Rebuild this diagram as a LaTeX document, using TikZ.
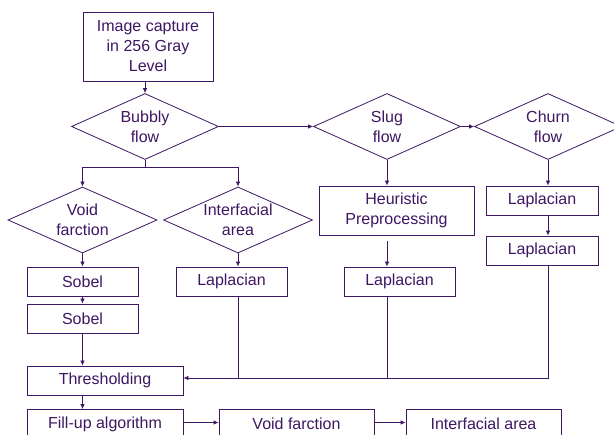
\documentclass[tikz,border=0pt]{standalone}
\usepackage{fontspec}
\setmainfont{Liberation Sans}
\usepackage{tikz}
\usetikzlibrary{shapes.geometric,arrows.meta}
\definecolor{ink}{RGB}{62,22,98}

\begin{document}
\begin{tikzpicture}[x=1pt,y=-1pt,
  every node/.style={text=ink,font=\fontsize{16}{20}\selectfont,align=center},
  box/.style={draw=ink,line width=0.8pt,rectangle,inner sep=0pt,minimum height=29pt},
  dec/.style={draw=ink,line width=0.8pt,diamond,aspect=2.2,inner sep=-1pt,minimum width=147pt,minimum height=66pt},
  arr/.style={draw=ink,line width=0.8pt,-{Latex[length=5pt,width=4.5pt]}},
  ln/.style={draw=ink,line width=0.8pt}]
\useasboundingbox (0,0) rectangle (614,435);
\clip (0,0) rectangle (614,435);

% Image capture
\node[box,minimum width=130pt,minimum height=69pt] (cap) at (148,46.5) {Image capture\\in 256 Gray\\Level};

% Flow regimes
\node[dec] (bub) at (145,126.5) {Bubbly\\flow};
\node[dec] (slug) at (387,126.5) {Slug\\flow};
\node[dec] (churn) at (548,126.5) {Churn\\flow};

% Bubbly flow branches
\node[dec,minimum width=149pt] (void) at (82.5,220) {Void\\farction};
\node[dec,minimum width=149pt] (intf) at (238,220) {Interfacial\\area};

% Filters
\node[box,minimum width=111pt] (sob1) at (82.5,281.5) {Sobel};
\node[box,minimum width=111pt] (sob2) at (82.5,318.5) {Sobel};
\node[box,minimum width=111pt] (lapi) at (231.5,281.5) {Laplacian};
\node[box,minimum width=155pt,minimum height=49pt] (heu) at (396.5,210.5) {Heuristic\\Preprocessing};
\node[box,minimum width=111pt] (laps) at (399.5,281.5) {Laplacian};
\node[box,minimum width=112pt] (lapc1) at (542,200.5) {Laplacian};
\node[box,minimum width=112pt] (lapc2) at (542,250.5) {Laplacian};

% Thresholding and results
\node[box,minimum width=156pt] (thr) at (105,380.5) {Thresholding};
\node[box,minimum width=156pt] (fill) at (105,424) {Fill-up algorithm};
\node[box,minimum width=155pt] (vres) at (296.5,424) {Void farction};
\node[box,minimum width=155pt] (ires) at (483.5,424) {Interfacial area};

% Connectors
\draw[arr] (bub.north |- cap.south) -- (bub.north);
\draw[arr] (bub.east) -- (slug.west);
\draw[arr] (slug.east) -- (churn.west);
\draw[ln] (bub.south) -- ++(0,8) coordinate (split);
\draw[arr] (split) -| (void.north);
\draw[arr] (split) -| (intf.north);
\draw[arr] (void.south) -- (sob1.north -| void.south);
\draw[arr] (sob1.south) -- (sob2.north);
\draw[arr] (sob2.south) -- (thr.north -| sob2.south);
\draw[arr] (intf.south) -- (lapi.north -| intf.south);
\draw[arr] (slug.south) -- (heu.north -| slug.south);
\draw[arr,shorten <=6pt] (heu.south -| slug.south) -- (laps.north -| slug.south);
\draw[arr] (churn.south) -- (lapc1.north -| churn.south);
\draw[arr] (lapc1.south -| churn.south) -- (lapc2.north -| churn.south);

% Merge into thresholding
\coordinate (mrg) at ([yshift=2.5pt]thr.east);
\draw[arr] (lapc2.south -| churn.south) |- (mrg);
\draw[ln] (laps.south -| slug.south) -- (slug.south |- mrg);
\draw[ln] (lapi.south -| intf.south) -- (intf.south |- mrg);
\draw[arr] (thr.south -| sob2.south) -- (fill.north -| sob2.south);
\draw[arr] ([yshift=1.5pt]fill.east) -- ([yshift=1.5pt]vres.west);
\draw[arr] ([yshift=1.5pt]vres.east) -- ([yshift=1.5pt]ires.west);

\end{tikzpicture}
\end{document}
